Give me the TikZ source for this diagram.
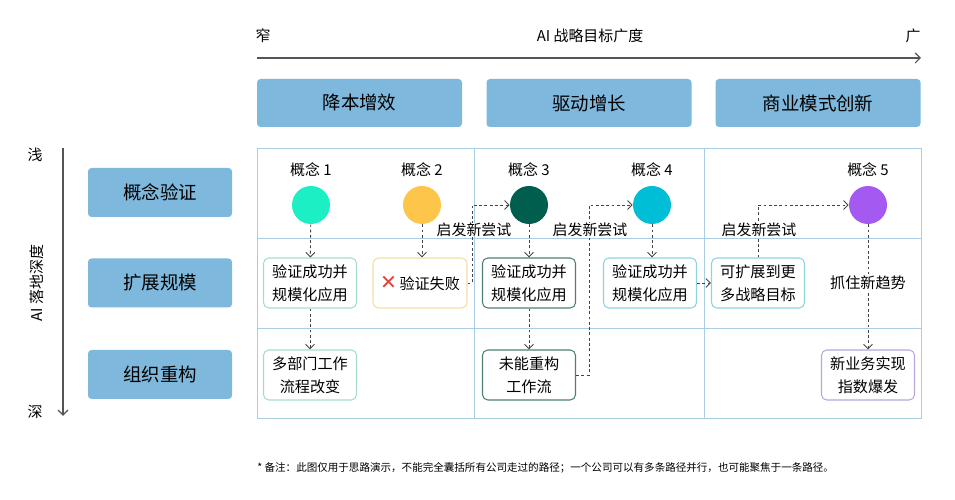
\documentclass[tikz,border=0pt]{standalone}
\usepackage{fontspec}
\setmainfont{Noto Sans CJK SC}
\newfontfamily\symfont{DejaVu Sans}
\usepackage{xcolor}
\usetikzlibrary{arrows.meta,calc,positioning}
\definecolor{headblue}{HTML}{7EB8DD}
\definecolor{gridblue}{HTML}{A9CDE2}
\definecolor{axisgray}{HTML}{555555}
\definecolor{flowgray}{HTML}{444444}
\definecolor{mintc}{HTML}{1CEFC3}
\definecolor{amberc}{HTML}{FDC64B}
\definecolor{tealc}{HTML}{005E4F}
\definecolor{cyanc}{HTML}{00BED6}
\definecolor{violetc}{HTML}{A45AF0}
\definecolor{mintline}{HTML}{A6DCCF}
\definecolor{amberline}{HTML}{F5DFA5}
\definecolor{tealline}{HTML}{4E7F77}
\definecolor{cyanline}{HTML}{8ED4DE}
\definecolor{violetline}{HTML}{B9A6DA}
\definecolor{crossred}{HTML}{E0443C}

\begin{document}
\begin{tikzpicture}[
    headbox/.style={fill=headblue, rounded corners=2pt, minimum width=4.1cm, minimum height=0.96cm, font=\fontsize{10.5}{12}\selectfont},
    rowbox/.style={fill=headblue, rounded corners=2pt, minimum width=2.88cm, minimum height=0.98cm, font=\fontsize{10.5}{12}\selectfont},
    concept/.style={circle, minimum size=0.76cm, inner sep=0pt},
    stepcard/.style={draw, line width=0.6pt, rounded corners=3pt, fill=white, minimum width=1.86cm, minimum height=1cm, align=center, inner sep=1pt, font=\fontsize{8.6}{13}\selectfont},
    small/.style={font=\fontsize{8.5}{10}\selectfont},
    flow/.style={draw=flowgray, line width=0.5pt, dash pattern=on 1.6pt off 1.4pt, -{Straight Barb[length=0.9mm,width=1.8mm]}},
    cellgrid/.style={draw=gridblue, line width=0.5pt},
  ]
                        \useasboundingbox (0,0) rectangle (19.1,10);
                        {\footnotesize

                        % Drawing axis of breadth
                        \coordinate (hstart) at (5.14,8.84);
                        \coordinate (hend) at (18.42,8.84);
                        \draw [axisgray, line width=0.7pt, -{Straight Barb[length=1mm,width=2mm]}] (hstart) -- (hend);%
                        \node [small] (narrow) at (5.26,9.28) {窄};%
                        \node [small] (breadth) at (11.8,9.28) {AI 战略目标广度};%
                        \node [small] (wide) at (18.26,9.28) {广};%

                        % Drawing axis of depth
                        \coordinate (vstart) at (1.26,7.04);
                        \coordinate (vend) at (1.26,1.68);
                        \draw [axisgray, line width=0.7pt, -{Straight Barb[length=1mm,width=2mm]}] (vstart) -- (vend);%
                        \node [small] (shallow) at (0.7,6.9) {浅};%
                        \node [small] (deep) at (0.7,1.76) {深};%
                        \node [small, rotate=90] (depth) at (0.74,4.34) {AI 落地深度};%

                        % Drawing column heads
                        \node [headbox] (cost) at (7.19,7.94) {降本增效};%
                        \node [headbox] (growth) at (11.78,7.94) {驱动增长};%
                        \node [headbox] (model) at (16.36,7.94) {商业模式创新};%

                        % Drawing row heads
                        \node [rowbox] (proof) at (3.2,6.15) {概念验证};%
                        \node [rowbox] (scale) at (3.2,4.34) {扩展规模};%
                        \node [rowbox] (rebuild) at (3.2,2.51) {组织重构};%

                        % Drawing grid
                        \draw [cellgrid] (5.14,1.64) rectangle (18.42,7.04);%
                        \foreach \x in {9.48,14.08}
                          \draw [cellgrid] (\x,1.64) -- (\x,7.04);%
                        \foreach \y in {3.44,5.24}
                          \draw [cellgrid] (5.14,\y) -- (18.42,\y);%

                        % Marking concepts by circles
                        \node [concept, fill=mintc] (c1) at (6.22,5.9) {};%
                        \node [concept, fill=amberc] (c2) at (8.44,5.9) {};%
                        \node [concept, fill=tealc] (c3) at (10.58,5.9) {};%
                        \node [concept, fill=cyanc] (c4) at (13.04,5.9) {};%
                        \node [concept, fill=violetc] (c5) at (17.36,5.9) {};%
                        \foreach \i in {1,...,5}
                          \node [small, above=0.07cm of c\i] (t\i) {概念 \i};%

                        % Drawing cards of scale row
                        \node [stepcard, draw=mintline] (s1) at (6.2,4.34) {验证成功并\\规模化应用};%
                        \node [stepcard, draw=amberline, minimum width=1.88cm] (s2) at (8.4,4.34) {{\symfont\fontsize{11.5}{13}\selectfont\color{crossred}✕}\,验证失败};%
                        \node [stepcard, draw=tealline] (s3) at (10.58,4.34) {验证成功并\\规模化应用};%
                        \node [stepcard, draw=cyanline] (s4) at (13.0,4.34) {验证成功并\\规模化应用};%
                        \node [stepcard, draw=cyanline] (s5) at (15.16,4.34) {可扩展到更\\多战略目标};%

                        % Drawing cards of rebuild row
                        \node [stepcard, draw=mintline] (r1) at (6.2,2.5) {多部门工作\\流程改变};%
                        \node [stepcard, draw=tealline] (r3) at (10.58,2.5) {未能重构\\工作流};%
                        \node [stepcard, draw=violetline] (r5) at (17.36,2.5) {新业务实现\\指数爆发};%

                        % Drawing flows down
                        \draw [flow] (c1) -- (s1);%
                        \draw [flow] (s1) -- (r1);%
                        \draw [flow] (c2) -- (s2.north -| c2);%
                        \draw [flow] (c3) -- (s3);%
                        \draw [flow] (s3) -- (r3);%
                        \draw [flow] (c4) -- (s4.north -| c4);%
                        \draw [flow] (c5) -- (r5);%

                        % Drawing flows to new tries
                        \coordinate (k1) at (9.44,4.34);
                        \coordinate (k2) at (11.78,2.5);
                        \draw [flow] (s2.east) -- (k1) |- (c3.west);%
                        \draw [flow] (r3.east) -- (k2) |- (c4.west);%
                        \draw [flow] (s4) -- (s5);%
                        \draw [flow] (s5.north) |- (c5.west);%

                        % Marking labels of new tries
                        \node [small, fill=white, inner sep=0pt] (n1) at (9.48,5.41) {启发新尝试};%
                        \node [small, fill=white, inner sep=0pt] (n2) at (11.8,5.41) {启发新尝试};%
                        \node [small, fill=white, inner sep=0pt] (n3) at (15.18,5.41) {启发新尝试};%
                        \node [font=\fontsize{8.6}{13}\selectfont, fill=white, inner sep=1pt] (trend) at (17.36,4.34) {抓住新趋势};%

                        % Marking note
                        \node [font=\fontsize{6}{7}\selectfont, anchor=west, inner sep=0pt] (note) at (5.14,0.64) {* 备注：此图仅用于思路演示，不能完全囊括所有公司走过的路径；一个公司可以有多条路径并行，也可能聚焦于一条路径。};%
                        }
                    \end{tikzpicture}
\end{document}
